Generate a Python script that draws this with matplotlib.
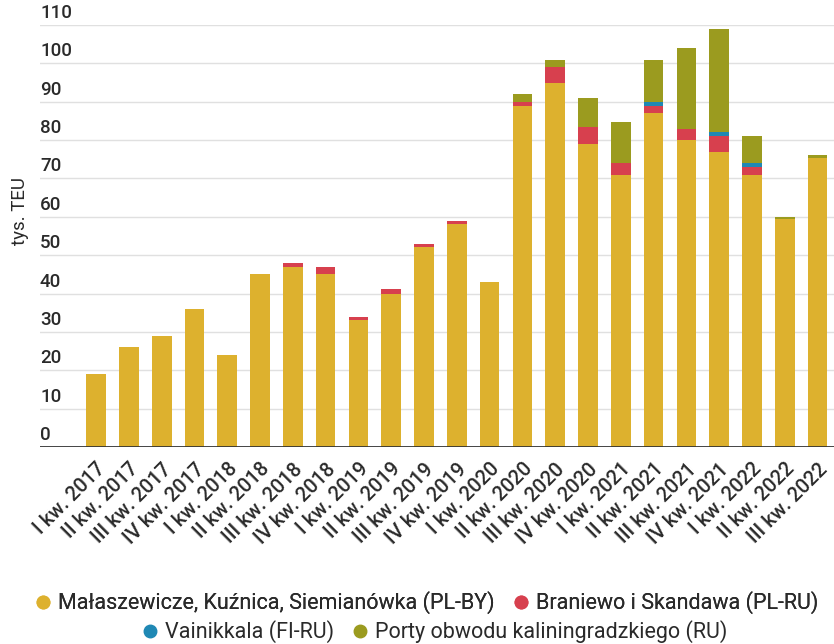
import matplotlib
matplotlib.use('Agg')

import numpy as np
import matplotlib.pyplot as plt
from matplotlib.lines import Line2D
from matplotlib.transforms import offset_copy

plt.rcParams['font.family'] = ['Roboto', 'DejaVu Sans']

quarters = ['I kw. 2017', 'II kw. 2017', 'III kw. 2017', 'IV kw. 2017',
            'I kw. 2018', 'II kw. 2018', 'III kw. 2018', 'IV kw. 2018',
            'I kw. 2019', 'II kw. 2019', 'III kw. 2019', 'IV kw. 2019',
            'I kw. 2020', 'II kw. 2020', 'III kw. 2020', 'IV kw. 2020',
            'I kw. 2021', 'II kw. 2021', 'III kw. 2021', 'IV kw. 2021',
            'I kw. 2022', 'II kw. 2022', 'III kw. 2022']

# tys. TEU
pl_by = [19, 26, 29, 36, 24, 45, 47, 45, 33.2, 40, 52.2, 58,
         43, 89, 95, 79, 71, 87, 80, 77, 71, 59.5, 75.3]
pl_ru = [0, 0, 0, 0, 0, 0, 0.9, 2, 0.8, 1.2, 0.7, 1,
         0, 1, 4, 4.3, 3, 2, 3, 4, 2, 0, 0]
fi_ru = [0, 0, 0, 0, 0, 0, 0, 0, 0, 0, 0, 0,
         0, 0, 0, 0, 0, 1, 0, 1, 1, 0, 0]
kalin = [0, 0, 0, 0, 0, 0, 0, 0, 0, 0, 0, 0,
         0, 2, 2, 7.8, 10.8, 11, 21, 27, 7, 0.5, 0.8]

series = [
    ('Małaszewicze, Kuźnica, Siemianówka (PL-BY)', pl_by, '#DDB12E'),
    ('Braniewo i Skandawa (PL-RU)', pl_ru, '#D7404E'),
    ('Vainikkala (FI-RU)', fi_ru, '#1F88B4'),
    ('Porty obwodu kaliningradzkiego (RU)', kalin, '#9B9B1F'),
]

fig = plt.figure(figsize=(8.34, 6.44), dpi=100)
ax = fig.add_axes([40 / 834, 197 / 644, 794 / 834, 422 / 644])

x = np.arange(len(quarters))
bottom = np.zeros(len(quarters))
for name, vals, col in series:
    vals = np.array(vals, dtype=float)
    ax.bar(x, vals, 0.6, bottom=bottom, color=col, label=name, zorder=2)
    bottom += vals

ax.set_xlim(-1.71, 22.5)
ax.set_ylim(0, 110)
for s in ax.spines.values():
    s.set_visible(False)
ax.axhline(0, color='#333333', lw=2, zorder=3)

for v in range(10, 111, 10):
    ax.axhline(v, color='#e0e0e0', lw=1, zorder=1)
ax.set_yticks([])
tr = offset_copy(ax.get_yaxis_transform(), fig=fig, x=0, y=3, units='dots')
for v in range(0, 111, 10):
    ax.text(0, v, str(v), transform=tr, ha='left', va='bottom',
            fontsize=13.5, color='#2a2a2a', fontweight='medium', zorder=4)

ax.set_xticks(x)
ax.set_xticklabels(quarters, rotation=45, ha='right', rotation_mode='anchor',
                   fontsize=14.5, color='#2a2a2a', fontweight='medium')
ax.tick_params(axis='x', length=0, pad=9)
for lbl in ax.get_xticklabels():
    lbl.set_x(lbl.get_position()[0])

fig.text(20 / 834, 1 - 211 / 644, 'tys. TEU', rotation=90, ha='center',
         va='center', fontsize=13.5, color='#2a2a2a')

handles = [Line2D([], [], ls='', marker='o', markersize=9, color=c,
                  label=n) for n, _, c in series]
leg_kw = dict(loc='center', ncol=2, frameon=False, fontsize=15.5,
              handletextpad=0.2, columnspacing=0.7, handlelength=1.0,
              labelcolor='#2a2a2a')
leg1 = fig.legend(handles=handles[:2], bbox_to_anchor=(0.51, 1 - 603 / 644),
                  **leg_kw)
fig.add_artist(leg1)
fig.legend(handles=handles[2:], bbox_to_anchor=(0.52, 1 - 632 / 644),
           **leg_kw)

fig.savefig('out.png', dpi=100)
